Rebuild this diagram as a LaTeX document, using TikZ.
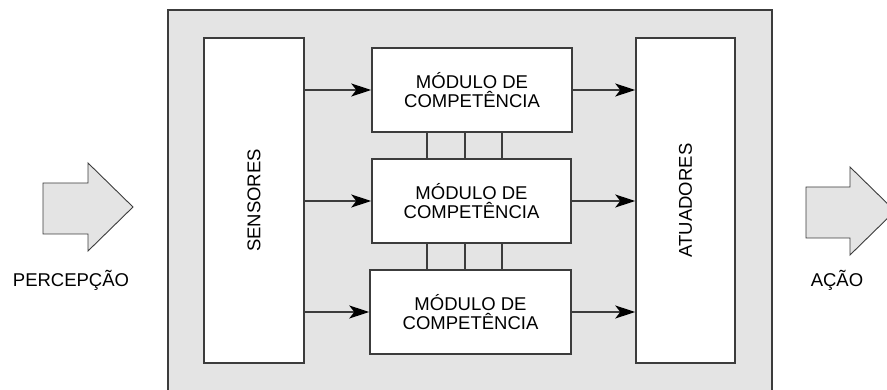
\documentclass[tikz,border=0pt]{standalone}
\usepackage{fontspec}
\setmainfont{Liberation Sans}
\usetikzlibrary{arrows.meta}
\definecolor{panel}{HTML}{E4E4E4}
\definecolor{edge}{HTML}{3C3C3C}
\tikzset{
  txt/.style={font=\fontsize{18.5}{19}\selectfont, text=black},
  blk/.style={txt, draw=edge, line width=1.5pt, fill=white, inner sep=0pt, align=center},
  link/.style={draw=edge, line width=1.3pt},
  flow/.style={link, -{Stealth[length=20pt,width=13pt,inset=5pt,color=black]}},
  bigarrow/.style={draw=edge, line width=0.9pt, fill=panel}
}
\begin{document}
\begin{tikzpicture}[x=1pt,y=-1pt]
\useasboundingbox (0,0) rectangle (887,390);
% panel
\path[fill=panel, draw=edge, line width=1.3pt] (168,10) rectangle (772,400);
% side blocks
\node[blk, minimum width=100pt, minimum height=325pt] (sens) at (254,200.5) {};
\node[txt, rotate=90] (senst) at (sens.center) {SENSORES};
\node[blk, minimum width=99pt, minimum height=325pt] (act) at (685.5,200.5) {};
\node[txt, rotate=90] (actt) at (act.center) {ATUADORES};
% modules
\node[blk, minimum width=200pt, minimum height=84pt] (m1) at (472,90) {MÓDULO DE\\COMPETÊNCIA};
\node[blk, minimum width=199pt, minimum height=84pt] (m2) at (471.5,201) {MÓDULO DE\\COMPETÊNCIA};
\node[blk, minimum width=201pt, minimum height=84pt] (m3) at (470.5,312) {MÓDULO DE\\COMPETÊNCIA};
% vertical links
\coordinate (c1) at (427,0);
\coordinate (c2) at (465,0);
\coordinate (c3) at (502,0);
\foreach \c in {c1,c2,c3}{
  \draw[link] (m1.south -| \c) -- (m2.north -| \c);
  \draw[link] (m2.south -| \c) -- (m3.north -| \c);
}
% arrows
\foreach \m in {m1,m2,m3}{
  \draw[flow] (sens.east |- \m.west) -- (\m.west);
  \draw[flow] (\m.east) -- (act.west |- \m.east);
}
% big arrows
\path[bigarrow] (43,183) -- (88,183) -- (88,163) -- (133,207) -- (88,251) -- (88,234) -- (43,234) -- cycle;
\path[bigarrow] (806,187) -- (850,187) -- (850,167) -- (895,211) -- (850,255) -- (850,238) -- (806,238) -- cycle;
\node[txt] (perc) at (71,280) {PERCEPÇÃO};
\node[txt] (acao) at (837,280) {AÇÃO};
\end{tikzpicture}
\end{document}
